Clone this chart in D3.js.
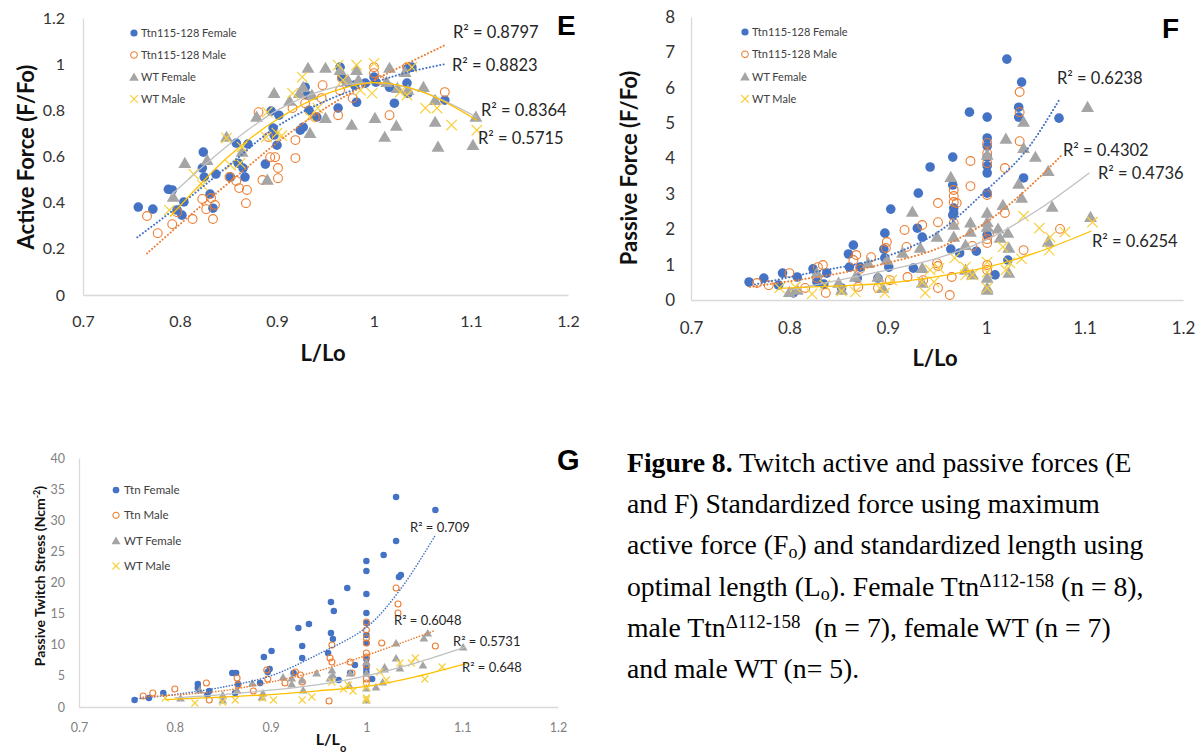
<!DOCTYPE html>
<html><head><meta charset="utf-8">
<script src="https://cdn.jsdelivr.net/npm/d3@7"></script>
<style>body{margin:0;background:#fff}svg{display:block}</style>
</head><body>
<svg id="c" width="1199" height="752"></svg>
<script>
// ---------- shared ----------
const xTicks = [0.7, 0.8, 0.9, 1.0, 1.1, 1.2];
const xTickLabels = ["0.7", "0.8", "0.9", "1", "1.1", "1.2"];
const seriesNamesEF = ["Ttn115-128 Female", "Ttn115-128 Male", "WT Female", "WT Male"];
const seriesNamesG = ["Ttn Female", "Ttn Male", "WT Female", "WT Male"];

// ---------- Panel E : Active Force ----------
const eYTicks = [0, 0.2, 0.4, 0.6, 0.8, 1, 1.2];
const eYTickLabels = ["0", "0.2", "0.4", "0.6", "0.8", "1", "1.2"];
const eTtnFemale = [[0.757,0.381],[0.772,0.372],[0.788,0.458],[0.792,0.455],[0.804,0.403],[0.797,0.368],[0.802,0.346],[0.824,0.619],[0.823,0.550],[0.825,0.511],[0.837,0.524],[0.831,0.437],[0.834,0.376],[0.852,0.511],[0.858,0.658],[0.870,0.654],[0.860,0.571],[0.867,0.511],[0.865,0.550],[0.888,0.567],[0.894,0.797],[0.896,0.723],[0.897,0.693],[0.902,0.779],[0.900,0.649],[0.924,0.714],[0.929,0.900],[0.931,0.866],[0.933,0.800],[0.941,0.771],[0.927,0.727],[0.965,0.987],[0.967,0.944],[0.972,0.922],[0.980,0.909],[0.982,0.835],[0.963,0.810],[0.991,0.918],[1.000,0.944],[1.002,0.922],[1.016,0.900],[1.021,0.831],[1.034,0.918],[1.035,0.983],[1.039,0.987],[1.073,0.844],[1.035,0.874]];
const eTtnMale = [[0.766,0.342],[0.777,0.268],[0.792,0.307],[0.797,0.359],[0.813,0.329],[0.823,0.416],[0.827,0.372],[0.834,0.329],[0.832,0.420],[0.836,0.390],[0.851,0.511],[0.858,0.494],[0.861,0.463],[0.869,0.455],[0.868,0.398],[0.881,0.792],[0.885,0.498],[0.893,0.597],[0.898,0.597],[0.901,0.506],[0.901,0.550],[0.891,0.684],[0.919,0.671],[0.919,0.593],[0.916,0.810],[0.929,0.831],[0.946,0.853],[0.947,0.909],[0.965,0.887],[0.967,0.939],[0.963,0.779],[0.978,0.853],[1.000,0.987],[1.000,0.961],[1.006,0.931],[1.016,0.779],[1.034,0.987],[1.073,0.879],[0.939,0.771]];
const eWtFemale = [[0.805,0.571],[0.793,0.424],[0.828,0.584],[0.848,0.684],[0.864,0.619],[0.879,0.771],[0.897,0.874],[0.890,0.498],[0.913,0.840],[0.923,0.874],[0.932,0.983],[0.950,0.983],[0.927,0.900],[0.936,0.866],[0.934,0.701],[0.950,0.766],[0.965,0.974],[0.973,0.931],[0.977,0.736],[0.982,0.974],[0.984,0.931],[1.001,0.766],[1.013,0.922],[1.016,0.983],[1.011,0.684],[1.023,0.732],[1.032,0.965],[1.035,0.887],[1.051,0.900],[1.063,0.844],[1.063,0.749],[1.066,0.641],[1.102,0.649],[1.105,0.771],[1.024,0.896]];
const eWtMale = [[0.789,0.368],[0.814,0.524],[0.823,0.476],[0.848,0.680],[0.852,0.563],[0.862,0.571],[0.864,0.641],[0.890,0.792],[0.900,0.701],[0.905,0.690],[0.889,0.684],[0.916,0.874],[0.926,0.944],[0.963,0.996],[0.982,0.996],[1.000,1.004],[0.986,0.887],[0.998,0.874],[0.942,0.810],[0.934,0.771],[1.034,0.866],[1.053,0.810],[1.065,0.810],[1.080,0.736],[1.106,0.714],[1.039,0.987],[1.027,0.879],[0.968,0.931]];
const eTrendTtnFemale = [[0.756,0.25],[0.80,0.39],[0.85,0.56],[0.90,0.73],[0.95,0.84],[1.00,0.92],[1.035,0.965],[1.073,1.0]];
const eTrendTtnMale = [[0.766,0.18],[0.82,0.38],[0.86,0.52],[0.90,0.66],[0.95,0.81],[1.0,0.93],[1.073,1.082]];
const eTrendWtFemale = [[0.79,0.43],[0.85,0.65],[0.90,0.80],[0.95,0.89],[1.0,0.92],[1.05,0.88],[1.106,0.77]];
const eTrendWtMale = [[0.79,0.34],[0.85,0.60],[0.90,0.76],[0.95,0.87],[1.0,0.92],[1.05,0.88],[1.106,0.757]];
const eR2 = ["R² = 0.8797", "R² = 0.8823", "R² = 0.8364", "R² = 0.5715"];

// ---------- Panel F : Passive Force ----------
const fYTicks = [0, 1, 2, 3, 4, 5, 6, 7, 8];
const fYTickLabels = ["0", "1", "2", "3", "4", "5", "6", "7", "8"];
const fTtnFemale = [[0.759,0.51],[0.774,0.62],[0.793,0.76],[0.789,0.42],[0.804,0.20],[0.808,0.65],[0.824,0.88],[0.828,0.51],[0.838,0.76],[0.835,0.45],[0.860,1.30],[0.865,1.55],[0.861,0.93],[0.872,0.93],[0.869,0.62],[0.853,0.34],[0.897,1.89],[0.896,1.44],[0.903,2.57],[0.901,0.93],[0.890,0.62],[0.943,3.76],[0.931,3.02],[0.930,2.03],[0.935,1.78],[0.926,0.90],[0.897,1.19],[1.021,6.81],[1.036,6.16],[1.033,5.45],[1.033,5.17],[0.983,5.31],[1.001,5.17],[1.074,5.14],[0.966,4.04],[1.001,4.58],[1.001,4.35],[1.001,4.04],[1.001,3.79],[1.001,3.59],[0.966,3.25],[1.038,3.45],[0.967,2.60],[0.967,2.46],[0.966,2.40],[1.001,1.84],[0.964,1.44],[0.973,1.33],[0.990,1.38],[1.022,1.13],[1.009,0.71],[1.001,3.02]];
const fTtnMale = [[0.767,0.48],[0.779,0.42],[0.800,0.76],[0.816,0.34],[0.829,0.93],[0.834,0.99],[0.837,0.20],[0.828,0.62],[0.868,1.27],[0.865,1.13],[0.870,0.37],[0.872,0.88],[0.883,1.21],[0.890,0.34],[0.899,1.64],[0.898,1.47],[0.902,0.56],[0.917,1.98],[0.951,2.74],[0.935,2.12],[0.920,0.65],[0.919,1.50],[0.936,0.56],[0.950,1.04],[0.951,0.34],[1.034,5.88],[1.034,5.31],[1.034,4.49],[1.001,4.44],[1.001,4.15],[1.001,3.87],[0.984,3.93],[1.019,3.73],[0.984,3.22],[0.967,3.11],[0.967,2.94],[0.967,2.77],[0.970,2.74],[0.951,2.20],[1.001,2.97],[1.019,2.46],[0.967,2.18],[1.001,1.72],[1.001,1.61],[1.003,1.89],[0.986,1.53],[1.038,1.41],[1.075,2.01],[1.001,0.99],[1.001,0.85],[0.965,0.65],[0.951,0.96],[0.963,0.14]];
const fWtFemale = [[0.925,2.49],[0.915,1.33],[0.899,1.13],[0.890,0.65],[0.895,0.34],[0.867,0.65],[0.850,0.48],[0.853,0.28],[0.808,0.28],[0.828,0.76],[0.935,0.90],[0.935,0.48],[0.880,1.04],[0.950,1.78],[0.933,1.47],[0.800,0.22],[1.103,5.45],[1.038,5.03],[1.038,4.29],[1.020,4.55],[1.050,4.04],[1.063,3.64],[0.964,3.47],[1.033,3.28],[1.001,4.10],[1.036,2.88],[1.017,2.68],[1.067,2.63],[1.001,2.46],[1.001,2.20],[0.984,2.18],[0.967,2.12],[0.984,1.92],[1.012,2.01],[1.022,1.89],[0.967,1.78],[0.979,1.55],[1.014,1.75],[1.023,1.47],[1.106,2.34],[1.063,1.64],[1.001,2.06],[0.979,0.85],[0.986,0.71],[1.001,0.62],[1.023,0.76],[1.001,0.34],[1.001,0.28]];
const fWtMale = [[0.790,0.34],[0.823,0.17],[0.853,0.25],[0.836,0.42],[0.867,0.23],[0.892,0.34],[0.897,0.20],[0.904,0.56],[0.938,0.20],[0.935,0.51],[0.806,0.37],[1.108,2.20],[1.054,2.03],[1.038,2.37],[1.080,1.92],[1.065,1.78],[1.064,1.41],[1.017,1.50],[1.036,1.16],[1.024,1.05],[1.020,0.85],[1.001,1.07],[1.001,0.79],[1.001,0.34],[0.986,0.71],[0.979,0.71],[0.968,1.19],[0.952,0.90],[0.943,0.85],[0.947,0.51],[0.979,0.93]];
const fTrendTtnFemale = [[0.758,0.40],[0.82,0.76],[0.895,1.2],[0.95,1.9],[1.0,3.1],[1.04,4.2],[1.075,5.7]];
const fTrendTtnMale = [[0.76,0.37],[0.85,0.75],[0.90,1.05],[0.95,1.45],[1.0,2.2],[1.04,3.1],[1.077,4.1]];
const fTrendWtFemale = [[0.80,0.28],[0.86,0.62],[0.90,0.85],[0.95,1.18],[1.0,1.7],[1.05,2.5],[1.105,3.6]];
const fTrendWtMale = [[0.79,0.33],[0.85,0.40],[0.90,0.48],[0.95,0.66],[1.0,0.92],[1.05,1.33],[1.107,1.95]];
const fR2 = ["R² = 0.6238", "R² = 0.4302", "R² = 0.4736", "R² = 0.6254"];

// ---------- Panel G : Passive Twitch Stress ----------
const gYTicks = [0, 5, 10, 15, 20, 25, 30, 35, 40];
const gYTickLabels = ["0", "5", "10", "15", "20", "25", "30", "35", "40"];
const gTtnFemale = [[0.758,1.12],[0.773,1.45],[0.788,2.25],[0.824,3.70],[0.824,3.05],[0.836,2.57],[0.834,1.93],[0.860,5.46],[0.864,5.46],[0.866,3.70],[0.863,2.25],[0.893,8.03],[0.901,9.00],[0.897,5.62],[0.899,6.10],[0.889,3.86],[0.929,12.69],[0.940,13.33],[0.933,9.80],[0.933,7.87],[0.924,5.46],[0.963,16.87],[0.966,15.42],[0.963,11.89],[0.965,10.92],[0.960,8.67],[0.980,19.12],[1.000,23.45],[1.000,21.85],[1.000,18.15],[1.000,15.10],[1.000,13.49],[1.000,11.57],[1.000,10.28],[1.000,7.71],[1.000,6.27],[1.000,5.62],[0.988,6.75],[0.983,5.46],[0.971,4.34],[1.006,4.50],[1.018,24.42],[1.031,33.73],[1.031,26.67],[1.034,20.88],[1.036,21.20],[1.072,31.65]];
const gTtnMale = [[0.767,1.77],[0.777,2.25],[0.800,2.89],[0.833,3.86],[0.836,1.12],[0.865,4.66],[0.866,3.53],[0.882,2.57],[0.896,5.94],[0.897,4.50],[0.915,3.86],[0.926,5.62],[0.931,5.14],[0.933,4.02],[0.961,0.96],[0.964,9.96],[0.962,7.87],[0.964,7.23],[0.983,7.23],[0.985,5.46],[1.000,13.65],[1.000,12.37],[1.000,11.08],[1.000,10.28],[1.000,8.67],[1.000,8.03],[1.000,6.75],[1.000,4.50],[1.000,3.86],[1.016,10.28],[1.031,19.12],[1.033,16.55],[1.033,15.10],[1.072,9.80]];
const gWtFemale = [[0.806,1.45],[0.826,2.73],[0.850,1.93],[0.850,1.12],[0.865,2.73],[0.881,3.86],[0.891,1.61],[0.892,2.25],[0.913,4.82],[0.922,3.70],[0.933,4.34],[0.934,2.73],[0.948,5.46],[0.964,5.94],[0.965,5.14],[0.962,4.66],[0.983,5.46],[1.000,7.23],[1.000,5.46],[1.000,3.05],[1.000,1.12],[1.019,6.43],[1.017,4.02],[1.010,3.21],[1.031,10.28],[1.031,7.87],[1.035,6.27],[1.019,6.10],[1.060,11.08],[1.064,11.89],[1.059,6.75],[1.101,9.64],[0.982,3.53],[0.922,4.66]];
const gWtMale = [[0.790,1.45],[0.821,0.64],[0.850,0.80],[0.863,1.12],[0.892,1.45],[0.903,1.12],[0.933,1.12],[0.943,1.61],[0.964,4.02],[0.976,2.89],[0.981,3.53],[0.986,2.57],[1.000,3.21],[1.000,1.45],[1.000,1.12],[1.021,4.34],[1.014,5.62],[1.035,7.07],[1.051,7.87],[1.047,7.07],[1.061,4.50],[1.079,6.43]];
const gTrendTtnFemale = [[0.758,1.3],[0.80,2.0],[0.85,3.2],[0.90,5.0],[0.95,8.5],[1.0,12.8],[1.035,18.8],[1.072,27.6]];
const gTrendTtnMale = [[0.767,1.6],[0.85,2.6],[0.90,4.0],[0.95,5.8],[1.0,8.3],[1.072,12.3]];
const gTrendWtFemale = [[0.80,1.5],[0.85,2.0],[0.90,2.7],[0.95,3.6],[1.0,5.0],[1.05,7.0],[1.103,9.6]];
const gTrendWtMale = [[0.79,1.2],[0.85,1.6],[0.90,2.0],[0.95,2.6],[1.0,3.3],[1.05,4.8],[1.105,7.0]];
const gR2 = ["R² = 0.709", "R² = 0.6048", "R² = 0.5731", "R² = 0.648"];

// ---------- drawing ----------
const svg = d3.select("#c");
const FONT = "Lato, 'Open Sans', sans-serif";
const COLORS = ["#4472C4", "#ED7D31", "#A5A5A5", "#FFC000"];

function marker(sel, kind, s) {
  if (kind === 0) {
    sel.append("circle").attr("r", 4.8 * s).attr("fill", COLORS[0]);
  } else if (kind === 1) {
    sel.append("circle").attr("r", 4.4 * s).attr("fill", "none").attr("stroke", COLORS[1]).attr("stroke-width", 1.1);
  } else if (kind === 2) {
    sel.append("path").attr("d", d3.symbol(d3.symbolTriangle, 72 * s * s)()).attr("fill", COLORS[2]).attr("transform", "translate(0,1)");
  } else {
    sel.append("path").attr("d", d3.symbol(d3.symbolTimes, 72 * s * s)()).attr("fill", "none").attr("stroke", "#F8D03D").attr("stroke-width", 1.2);
  }
}

function panel(o) {
  const x = d3.scaleLinear().domain([0.7, 1.2]).range([o.x0, o.x1]);
  const y = d3.scaleLinear().domain([0, o.ymax]).range([o.y0, o.y1]);
  const g = svg.append("g");

  const ax = g.append("g").attr("transform", `translate(0,${o.y0})`)
    .call(d3.axisBottom(x).tickValues(xTicks).tickFormat((d, i) => xTickLabels[i]).tickSize(0).tickSizeOuter(0).tickPadding(o.xp));
  const ay = g.append("g").attr("transform", `translate(${o.x0},0)`)
    .call(d3.axisLeft(y).tickValues(o.yt).tickFormat((d, i) => o.yl[i]).tickSize(0).tickSizeOuter(0).tickPadding(o.yp));
  [ax, ay].forEach(a => {
    a.select(".domain").attr("stroke", "#D9D9D9").attr("stroke-width", 1.3);
    a.selectAll("text").attr("font-family", FONT).attr("font-size", o.tf).attr("fill", o.tc);
  });

  o.series.forEach((data, k) => {
    g.append("g").selectAll("g").data(data).join("g")
      .attr("transform", d => `translate(${x(d[0])},${y(d[1])})`)
      .each(function () { marker(d3.select(this), k, o.ms); });
  });

  const line = d3.line().x(d => x(d[0])).y(d => y(d[1])).curve(d3.curveCatmullRom.alpha(0.5));
  o.trends.forEach((t, k) => {
    const p = g.append("path").attr("d", line(t)).attr("fill", "none");
    if (k < 2) p.attr("stroke", COLORS[k]).attr("stroke-width", o.dw).attr("stroke-dasharray", o.dash).attr("stroke-linecap", "round");
    else p.attr("stroke", k === 2 ? "#C0C0C0" : "#FFC000").attr("stroke-width", 1.3);
  });

  o.r2.forEach((t, k) => {
    g.append("text").attr("x", o.r2pos[k][0]).attr("y", o.r2pos[k][1])
      .attr("font-family", FONT).attr("font-size", o.r2f).attr("fill", "#262626").text(t);
  });

  o.names.forEach((n, k) => {
    const ly = o.leg[1] + k * o.leg[2];
    const m = g.append("g").attr("transform", `translate(${o.leg[0]},${ly})`);
    marker(m, k, o.lms);
    g.append("text").attr("x", o.leg[0] + o.leg[3]).attr("y", ly + 4)
      .attr("font-family", FONT).attr("font-size", o.lf).attr("fill", "#404040").text(n);
  });

  const yt = g.append("text").attr("transform", `translate(${o.ytPos[0]},${o.ytPos[1]}) rotate(-90)`)
    .attr("text-anchor", "middle").attr("font-family", FONT).attr("font-weight", "bold")
    .attr("font-size", o.ytf).attr("fill", "#111");
  o.yTitle(yt);
  const xt = g.append("text").attr("x", o.xtPos[0]).attr("y", o.xtPos[1])
    .attr("text-anchor", "middle").attr("font-family", FONT).attr("font-weight", "bold")
    .attr("font-size", o.xtf).attr("fill", "#111");
  o.xTitle(xt);

  g.append("text").attr("x", o.letter[0]).attr("y", o.letter[1]).attr("font-family", "Liberation Sans, Arial, sans-serif")
    .attr("font-weight", "bold").attr("font-size", o.letter[3]).attr("fill", "#000").text(o.letter[2]);
}

panel({
  x0: 83, x1: 568, y0: 295, y1: 18, ymax: 1.2, yt: eYTicks, yl: eYTickLabels,
  xp: 21, yp: 18, tf: 16, tc: "#333",
  series: [eTtnFemale, eTtnMale, eWtFemale, eWtMale], ms: 1,
  trends: [eTrendTtnFemale, eTrendTtnMale, eTrendWtFemale, eTrendWtMale], dw: 2, dash: "0.1,3.4",
  r2: eR2, r2f: 16.5, r2pos: [[453, 38], [452, 71], [481, 116], [478, 144]],
  names: seriesNamesEF, leg: [134, 33, 22, 7], lms: 0.75, lf: 11,
  ytPos: [34, 157], ytf: 22, yTitle: t => t.text("Active Force (F/Fo)"),
  xtPos: [323, 361], xtf: 22, xTitle: t => t.text("L/Lo"),
  letter: [557, 35, "E", 28]
});

panel({
  x0: 691, x1: 1183, y0: 300, y1: 17, ymax: 8, yt: fYTicks, yl: fYTickLabels,
  xp: 22, yp: 16, tf: 17, tc: "#333",
  series: [fTtnFemale, fTtnMale, fWtFemale, fWtMale], ms: 1,
  trends: [fTrendTtnFemale, fTrendTtnMale, fTrendWtFemale, fTrendWtMale], dw: 2, dash: "0.1,3.4",
  r2: fR2, r2f: 16.5, r2pos: [[1057, 84], [1063, 156], [1098, 179], [1092, 247]],
  names: seriesNamesEF, leg: [745, 32, 22.3, 7], lms: 0.75, lf: 11,
  ytPos: [637, 168], ytf: 22, yTitle: t => t.text("Passive Force (F/Fo)"),
  xtPos: [935, 366], xtf: 22, xTitle: t => t.text("L/Lo"),
  letter: [1162, 38, "F", 28]
});

panel({
  x0: 79, x1: 558, y0: 707, y1: 458, ymax: 40, yt: gYTicks, yl: gYTickLabels,
  xp: 16, yp: 14, tf: 12.5, tc: "#7F7F7F",
  series: [gTtnFemale, gTtnMale, gWtFemale, gWtMale], ms: 0.68,
  trends: [gTrendTtnFemale, gTrendTtnMale, gTrendWtFemale, gTrendWtMale], dw: 1.6, dash: "0.1,2.8",
  r2: gR2, r2f: 13, r2pos: [[410, 532], [394, 625], [453, 646], [462, 672]],
  names: seriesNamesG, leg: [116, 490, 25.3, 8], lms: 0.7, lf: 11.5,
  ytPos: [45, 576], ytf: 14, yTitle: t => { t.append("tspan").text("Passive Twitch Stress (Ncm"); t.append("tspan").attr("baseline-shift", "super").attr("font-size", 9).text("-2"); t.append("tspan").text(")"); },
  xtPos: [331, 745], xtf: 16, xTitle: t => { t.append("tspan").text("L/L"); t.append("tspan").attr("baseline-shift", "sub").attr("font-size", 11).text("o"); },
  letter: [557, 470, "G", 29]
});

// ---------- caption ----------
const capLines = [
  [["b", "Figure 8."], ["n", " Twitch active and passive forces (E"]],
  [["n", "and F) Standardized force using maximum"]],
  [["n", "active force (F"], ["sub", "o"], ["n", ") and standardized length using"]],
  [["n", "optimal length (L"], ["sub", "o"], ["n", "). Female Ttn"], ["sup", "Δ112-158"], ["n", " (n = 8),"]],
  [["n", "male Ttn"], ["sup", "Δ112-158"], ["n", "\u00a0 (n = 7), female WT (n = 7)"]],
  [["n", "and male WT (n= 5)."]]
];
capLines.forEach((parts, i) => {
  const t = svg.append("text").attr("x", 627).attr("y", 472 + i * 41.2)
    .attr("font-family", "'Liberation Serif', 'Times New Roman', serif").attr("font-size", 27.7).attr("fill", "#000");
  parts.forEach(p => {
    const s = t.append("tspan").text(p[1]);
    if (p[0] === "b") s.attr("font-weight", "bold");
    if (p[0] === "sub") s.attr("font-size", 18).attr("baseline-shift", "-4");
    if (p[0] === "sup") s.attr("font-size", 19).attr("baseline-shift", "9");
  });
});
</script>
</body></html>
